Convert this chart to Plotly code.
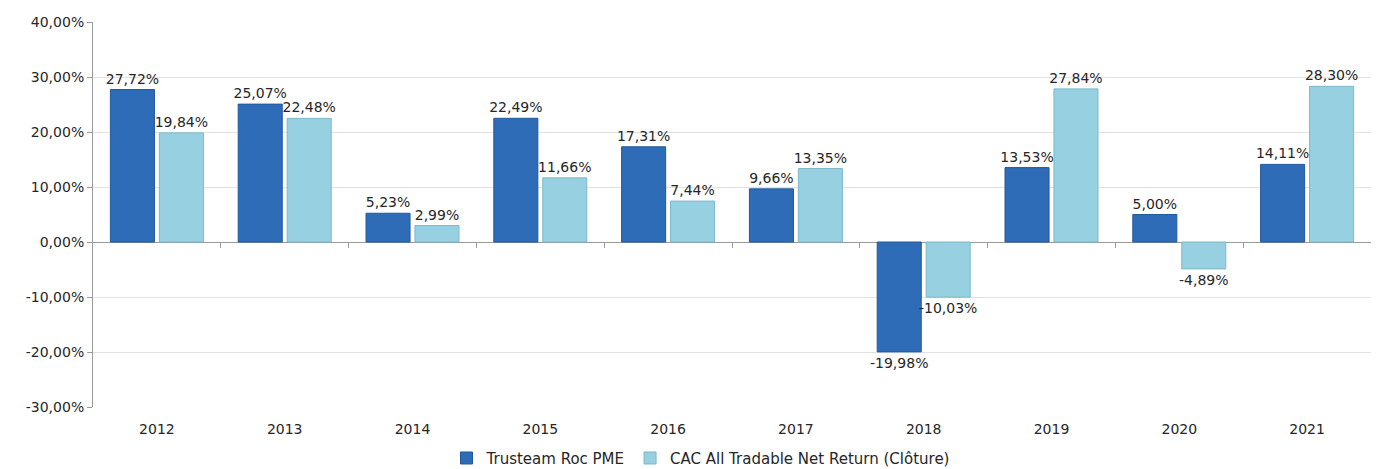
import plotly.graph_objects as go

years = ["2012", "2013", "2014", "2015", "2016", "2017", "2018", "2019", "2020", "2021"]
trusteam = [27.72, 25.07, 5.23, 22.49, 17.31, 9.66, -19.98, 13.53, 5.00, 14.11]
cac = [19.84, 22.48, 2.99, 11.66, 7.44, 13.35, -10.03, 27.84, -4.89, 28.30]
tick_vals = [-30, -20, -10, 0, 10, 20, 30, 40]
y_range = [-30, 40]


def fmt(v):
    return f"{v:.2f}%".replace(".", ",")


fig = go.Figure()
fig.add_trace(go.Bar(
    x=years, y=trusteam, name="Trusteam Roc PME",
    marker=dict(color="#2E6CB7", line=dict(color="#22589C", width=1)),
    text=[fmt(v) for v in trusteam], textposition="outside", cliponaxis=False,
    textfont=dict(size=14, color="#262626"),
    hoverinfo="x+text",
))
fig.add_trace(go.Bar(
    x=years, y=cac, name="CAC All Tradable Net Return (Clôture)",
    marker=dict(color="#97D0E0", line=dict(color="#7CB8CA", width=1)),
    text=[fmt(v) for v in cac], textposition="outside", cliponaxis=False,
    textfont=dict(size=14, color="#262626"),
    hoverinfo="x+text",
))

# category-boundary ticks on the zero line (as in the original Excel chart)
boundaries = [i + 0.5 for i in range(len(years) - 1)]
zero_pos = (0 - y_range[0]) / (y_range[1] - y_range[0])
fig.add_trace(go.Scatter(x=[None], y=[None], xaxis="x2", yaxis="y",
                         mode="markers", showlegend=False, hoverinfo="skip"))

fig.update_layout(
    width=1385, height=469,
    margin=dict(l=85, r=22, t=14, b=70),
    paper_bgcolor="white", plot_bgcolor="white",
    barmode="group", bargap=0.234, bargroupgap=0.1,
    uniformtext=dict(minsize=14, mode="show"),
    font=dict(family="DejaVu Sans", size=14, color="#262626"),
    legend=dict(orientation="h", x=0.5, xref="container", xanchor="center",
                y=0.04, yref="container", yanchor="middle",
                font=dict(size=15, color="#262626"), itemwidth=30,
                tracegroupgap=0),
    showlegend=True,
    xaxis2=dict(overlaying="x", anchor="free", position=zero_pos,
                range=[-0.5, len(years) - 0.5], tickvals=boundaries,
                showticklabels=False, ticks="outside", ticklen=5,
                tickcolor="#9A9A9A", showgrid=False, zeroline=False,
                showline=False, automargin=False),
)
fig.update_yaxes(
    range=y_range, tickvals=tick_vals, ticktext=[fmt(v) for v in tick_vals],
    showgrid=True, gridcolor="#E2E2E2", gridwidth=1,
    zeroline=True, zerolinecolor="#9A9A9A", zerolinewidth=1,
    showline=True, linecolor="#9A9A9A", linewidth=1,
    ticks="outside", ticklen=5, tickcolor="#9A9A9A",
    tickfont=dict(size=14, color="#262626"), automargin=False,
)
fig.layout.xaxis.update(showline=False, ticks="", ticklabelstandoff=12,
                        tickfont=dict(size=14, color="#262626"), automargin=False)

fig.write_html("out.html")
